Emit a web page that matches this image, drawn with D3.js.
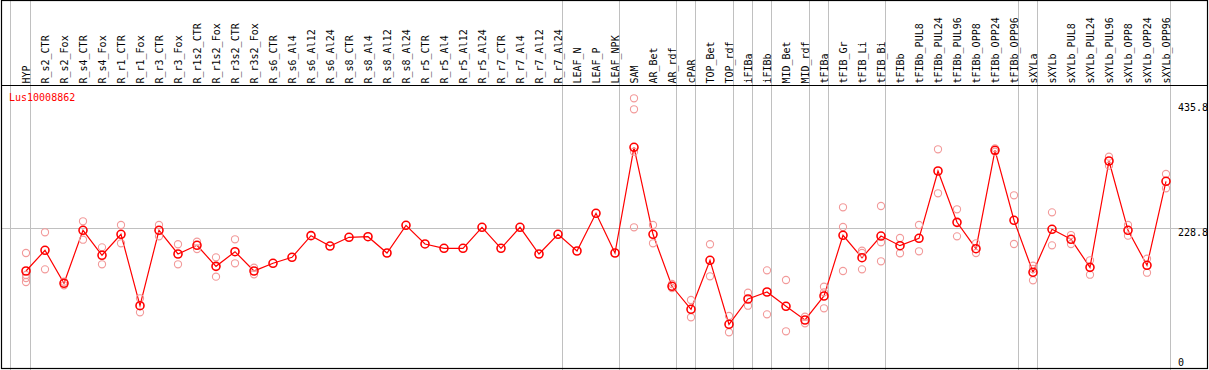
<!DOCTYPE html>
<html>
<head>
<meta charset="utf-8">
<script src="https://cdn.jsdelivr.net/npm/d3@7"></script>
<style>
  body { margin: 0; background: #fff; }
  svg text { font-family: "DejaVu Sans Mono", monospace; font-size: 10px; }
</style>
</head>
<body>
<svg id="chart" width="1209" height="370"></svg>
<script>
"use strict";

var geneName = "Lus10008862";

var categories = [
  "HYP", "R_s2_CTR", "R_s2_Fox", "R_s4_CTR", "R_s4_Fox", "R_r1_CTR", "R_r1_Fox",
  "R_r3_CTR", "R_r3_Fox", "R_r1s2_CTR", "R_r1s2_Fox", "R_r3s2_CTR", "R_r3s2_Fox",
  "R_s6_CTR", "R_s6_Al4", "R_s6_Al12", "R_s6_Al24", "R_s8_CTR", "R_s8_Al4",
  "R_s8_Al12", "R_s8_Al24", "R_r5_CTR", "R_r5_Al4", "R_r5_Al12", "R_r5_Al24",
  "R_r7_CTR", "R_r7_Al4", "R_r7_Al12", "R_r7_Al24", "LEAF_N", "LEAF_P", "LEAF_NPK",
  "SAM", "AR_Bet", "AR_rdf", "cPAR", "TOP_Bet", "TOP_rdf", "iFIBa", "iFIBb",
  "MID_Bet", "MID_rdf", "tFIBa", "tFIB_Gr", "tFIB_Li", "tFIB_Bi", "tFIBb",
  "tFIBb_PUL8", "tFIBb_PUL24", "tFIBb_PUL96", "tFIBb_OPP8", "tFIBb_OPP24", "tFIBb_OPP96",
  "sXYLa", "sXYLb", "sXYLb_PUL8", "sXYLb_PUL24", "sXYLb_PUL96", "sXYLb_OPP8",
  "sXYLb_OPP24", "sXYLb_OPP96"
];

var means = [
  155.5, 190.9, 134.5, 225.1, 182.4, 218.2, 96.2,
  225.1, 184.6, 199.4, 163.5, 188.5, 155.5,
  168.7, 178.9, 215.9, 198.2, 213.1, 214.1,
  186.3, 233.6, 201.7, 194.3, 194.3, 230.2,
  194.3, 230.2, 184.6, 218.2, 189.7, 254.1, 186.3,
  366.9, 218.2, 129.4, 90.1, 173.8, 64.4, 107.7, 119.6,
  95.2, 71.8, 112.8, 216.5, 178.2, 215.3, 198.8,
  211.4, 326.4, 238.7, 193.6, 361.8, 242.2,
  153.3, 226.8, 209.7, 161.8, 343.5, 225.1,
  165.3, 308.8
];

var replicates = [
  [186.3, 148.7, 143.6, 136.7], [221.7, 158.4], [137.2, 131.1], [240.5, 209.0],
  [196.0, 167.0], [234.1, 202.9], [108.9, 84.9],
  [234.1, 214.8], [201.2, 167.0], [205.6, 193.1], [178.9, 145.8], [209.7, 168.7],
  [161.2, 149.9],
  [], [], [], [], [], [],
  [], [], [], [], [], [],
  [], [], [], [], [], [], [],
  [450.7, 431.9, 359.4, 230.2], [234.1, 202.9], [133.3, 126.5], [106.0, 76.4],
  [201.2, 146.5], [78.6, 50.8], [118.4, 96.2], [156.7, 81.5],
  [140.1, 52.5], [77.4, 66.1], [128.7, 119.1, 91.8], [264.4, 230.7, 155.5],
  [190.2, 186.3, 158.4], [266.6, 204.6, 172.1], [211.9, 185.8],
  [234.1, 189.2], [363.5, 288.3], [261.0, 214.8], [202.9, 186.3], [365.2, 359.4],
  [284.9, 201.7],
  [164.6, 158.9, 139.6], [255.8, 199.4], [217.0, 201.7], [173.8, 149.2],
  [350.9, 335.5], [234.1, 215.9], [176.5, 152.6], [321.3, 296.9]
];

var tickValues = [0, 228.8, 435.8];
// a grey separator is drawn right after each of these categories
var groupEnds = [
  "HYP", "R_r7_Al24", "LEAF_NPK", "AR_rdf", "cPAR", "TOP_rdf", "iFIBa", "iFIBb",
  "MID_rdf", "tFIBa", "tFIB_Bi", "tFIBb_OPP96", "sXYLa", "sXYLb_OPP96"
];

var W = 1209, H = 370;
var headerY = 85.5, bottomY = 368.5;
var svg = d3.select("#chart");

var x = d3.scalePoint().domain(categories).range([26, 1166]);
var y = d3.scaleLinear().domain([0, 435.8]).range([362, 107]);

// grey grid
var grid = svg.append("g").attr("stroke", "#c0c0c0").attr("stroke-width", 1);
grid.append("line")
  .attr("x1", Math.round(x(categories[0]) - 16) + 0.5).attr("x2", Math.round(x(categories[0]) - 16) + 0.5)
  .attr("y1", 0).attr("y2", H);
grid.selectAll("line.sep").data(groupEnds).enter().append("line")
  .attr("class", "sep")
  .attr("x1", function(d) { return Math.round(x(d) + 4) + 0.5; })
  .attr("x2", function(d) { return Math.round(x(d) + 4) + 0.5; })
  .attr("y1", 0).attr("y2", H);
grid.append("line")
  .attr("x1", 1).attr("x2", W - 1)
  .attr("y1", Math.round(y(228.8)) + 0.5).attr("y2", Math.round(y(228.8)) + 0.5);

// frame
var frame = svg.append("g").attr("stroke", "#000").attr("stroke-width", 1.2).attr("fill", "none");
frame.append("rect").attr("x", 1.5).attr("y", 0.5).attr("width", W - 3).attr("height", bottomY - 0.5);
frame.append("line").attr("x1", 1).attr("x2", W - 1).attr("y1", headerY).attr("y2", headerY);

// column labels
svg.append("g").selectAll("text").data(categories).enter().append("text")
  .attr("transform", function(d) { return "translate(" + (x(d) + 4) + "," + (headerY - 2) + ") rotate(-90)"; })
  .attr("fill", "#000")
  .text(function(d) { return d; });

// gene name
svg.append("text").attr("x", 9).attr("y", 101).attr("fill", "#f00").text(geneName);

// right axis labels
svg.append("g").selectAll("text").data(tickValues).enter().append("text")
  .attr("x", 1178)
  .attr("y", function(d) { return y(d) + (d === 228.8 ? 8 : 4); })
  .attr("fill", "#000")
  .text(function(d) { return d === 0 ? "0" : d3.format(".1f")(d); });

// mean line
var line = d3.line()
  .x(function(d, i) { return x(categories[i]); })
  .y(function(d) { return y(d); });
svg.append("path").datum(means)
  .attr("d", line)
  .attr("fill", "none").attr("stroke", "#f00").attr("stroke-width", 1.2);

// replicate points
var repPts = [];
replicates.forEach(function(list, i) {
  list.forEach(function(v) { repPts.push({ cat: categories[i], v: v }); });
});
svg.append("g").selectAll("circle").data(repPts).enter().append("circle")
  .attr("cx", function(d) { return x(d.cat); })
  .attr("cy", function(d) { return y(d.v); })
  .attr("r", 3.6)
  .attr("fill", "none").attr("stroke", "#f29a9a").attr("stroke-width", 1.1);

// mean points
svg.append("g").selectAll("circle").data(means).enter().append("circle")
  .attr("cx", function(d, i) { return x(categories[i]); })
  .attr("cy", function(d) { return y(d); })
  .attr("r", 4)
  .attr("fill", "none").attr("stroke", "#f00").attr("stroke-width", 1.6);
</script>
</body>
</html>
